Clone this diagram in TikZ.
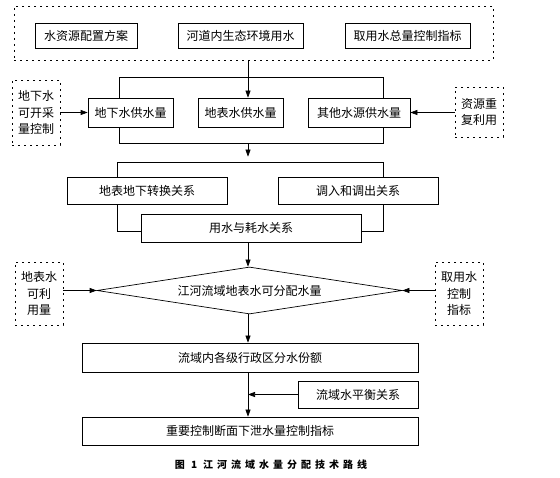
\documentclass[tikz,border=0pt]{standalone}
\usepackage{fontspec}
\setmainfont{Noto Sans CJK SC}
\newfontfamily\capfont[LetterSpace=40]{Noto Sans CJK SC}
\usetikzlibrary{arrows.meta, shapes.geometric}
\tikzset{
  every picture/.style={line width=0.7pt, font=\fontsize{12}{16.7}\selectfont},
  box/.style={draw, fill=white, inner sep=0pt, minimum width=#1, minimum height=28pt},
  box/.default=100pt,
  dbox/.style={draw, dash pattern=on 2pt off 4pt, align=center, inner sep=0pt, minimum width=48pt},
  frame/.style={draw, inner sep=0pt},
  arrow/.style={-{Triangle[length=7pt, width=5pt]}},
  caption/.style={font={\capfont\bfseries\fontsize{10}{12}\selectfont}},
}

\begin{document}
\begin{tikzpicture}[x=1pt, y=-1pt]
  \useasboundingbox (0,0) rectangle (560,478);
  \coordinate (spine) at (248,0);
  % top group
  \node[dbox, minimum width=479pt, minimum height=54pt] (top) at (253.5,33) {};
  \node[box=102pt, minimum height=25pt] (plan) at (86,35.5) {水资源配置方案};
  \node[box=125pt, minimum height=25pt] (eco) at (240.5,35.5) {河道内生态环境用水};
  \node[box=125pt, minimum height=25pt] (quota) at (407.5,35.5) {取用水总量控制指标};
  % supply
  \node[frame, minimum width=264pt, minimum height=66pt] (grp1) at (251,110) {};
  \node[box=85pt, minimum height=29pt] (gw) at (130.5,112.5) {地下水供水量};
  \node[box=85pt, minimum height=29pt] (sw) at (240.5,112.5) {地表水供水量};
  \node[box=102pt, minimum height=29pt] (other) at (359,112.5) {其他水源供水量};
  \node[dbox, minimum height=65pt] (gwlim) at (36,112.5) {地下水\\可开采\\量控制};
  \node[dbox, minimum height=50pt] (reuse) at (479,112) {资源重\\复利用};
  \draw[arrow] (top.south -| spine) -- (sw.north -| spine);
  \draw[arrow] (gwlim.east |- gw.west) -- (gw.west);
  \draw[arrow] (reuse.west |- other.east) -- (other.east);
  % relations
  \node[frame, minimum width=266pt, minimum height=69pt] (grp2) at (250,196.5) {};
  \node[box=160pt, minimum height=27pt] (conv) at (147,190.5) {地表地下转换关系};
  \node[box=160pt, minimum height=27pt] (trans) at (358,190.5) {调入和调出关系};
  \node[box=220pt] (use) at (251,228) {用水与耗水关系};
  \draw[arrow, shorten >=5pt] (grp1.south -| spine) -- (grp2.north -| spine);
  % allocable water
  \node[draw, diamond, aspect=6.5, inner sep=1pt, minimum width=305pt, minimum height=47pt] (alloc) at (249.5,290.5) {江河流域地表水可分配水量};
  \node[dbox, minimum height=63pt] (swuse) at (39,293.5) {地表水\\可利\\用量};
  \node[dbox, minimum height=63pt] (ctrl) at (459,293.5) {取用水\\控制\\指标};
  \draw[arrow] (use.south -| spine) -- (alloc.north -| spine);
  \draw[arrow] (swuse.east |- alloc.west) -- (alloc.west);
  \draw[arrow] (ctrl.west |- alloc.east) -- (alloc.east);
  % shares and targets
  \node[box=336pt, minimum height=29pt] (share) at (250,357.5) {流域内各级行政区分水份额};
  \node[box=120pt, minimum height=27pt] (bal) at (358,394.5) {流域水平衡关系};
  \node[box=336pt] (target) at (250,431) {重要控制断面下泄水量控制指标};
  \draw[arrow] (alloc.south -| spine) -- (share.north -| spine);
  \draw[arrow] (share.south -| spine) -- (target.north -| spine);
  \draw[arrow] (bal.west) -- (bal.west -| spine);
  \node[caption] (cap) at (271,465) {图 1\hspace{6pt}江河流域水量分配技术路线};
\end{tikzpicture}
\end{document}
